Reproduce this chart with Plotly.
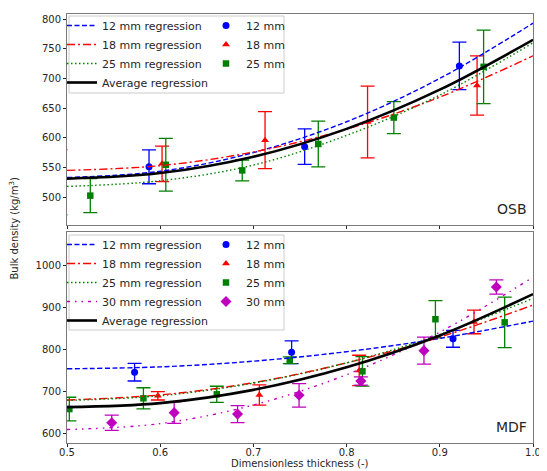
import plotly.graph_objects as go

# ---------------- data ----------------
x_grid = [0.5, 0.6, 0.7, 0.8, 0.9, 1.0]

# OSB regression curves
osb_reg_12 = [533, 543.5, 575, 627, 700, 793]
osb_reg_18 = [545, 553, 576, 614.5, 668.5, 738]
osb_reg_25 = [518, 527.5, 554, 604, 672, 760]
osb_reg_avg = [531, 540.5, 568, 615, 681, 765]

# OSB measurements
osb_12_x = [0.588, 0.755, 0.921]
osb_12_y = [551, 585, 721]
osb_12_e = [28.5, 30, 40]
osb_18_x = [0.493, 0.602, 0.7125, 0.8225, 0.94]
osb_18_y = [525, 556, 596, 626.5, 688]
osb_18_e = [55, 30, 48, 60.5, 50]
osb_25_x = [0.525, 0.606, 0.688, 0.7696, 0.8507, 0.947]
osb_25_y = [502.5, 554.5, 545, 589.5, 634, 719.5]
osb_25_e = [28.5, 44.5, 17.5, 38.5, 27, 62]

# MDF regression curves
mdf_reg_12 = [754, 758.5, 772, 794.5, 826, 867]
mdf_reg_18 = [680, 692, 721, 768, 829, 905]
mdf_reg_25 = [679, 690, 720, 768, 835, 921]
mdf_reg_30 = [610, 624, 668, 740, 841, 971]
mdf_reg_avg = [663, 672.5, 704, 757.5, 833, 931]

# MDF measurements
mdf_12_x = [0.5725, 0.741, 0.9142]
mdf_12_y = [746, 793, 825]
mdf_12_e = [21, 27, 20]
mdf_18_x = [0.5975, 0.7064, 0.8135, 0.9367]
mdf_18_y = [690, 692, 750, 865]
mdf_18_e = [10, 24, 36, 28]
mdf_25_x = [0.5025, 0.582, 0.6607, 0.739, 0.817, 0.8953, 0.9696]
mdf_25_y = [658.5, 684, 693.5, 774, 748, 871.5, 864]
mdf_25_e = [28, 25, 19, 8, 35, 44, 60]
mdf_30_x = [0.548, 0.615, 0.683, 0.749, 0.8153, 0.883, 0.9607]
mdf_30_y = [626, 650, 646.5, 691, 725, 797, 948]
mdf_30_e = [18, 25.5, 20, 28, 10, 32, 17]

x_ticks = [0.5, 0.6, 0.7, 0.8, 0.9, 1.0]
osb_y_ticks = [500, 550, 600, 650, 700, 750, 800]
mdf_y_ticks = [600, 700, 800, 900, 1000]

# ---------------- styling ----------------
# the page body has an 8px default margin, so the figure is drawn 8px
# right/down of the window corner; size it to fill the rest of the window
OFF = 8
SW, SH = 547, 471                 # window size
W, H = SW - OFF, SH - OFF          # figure size
ML, MR, MT, MB = 67 - OFF, 14, 14 - OFF, 28
PW, PH = W - ML - MR, H - MT - MB
FONT = "DejaVu Sans"
BLUE, RED, GREEN, MAG, BLACK = "#0000ff", "#ff0000", "#008000", "#bf00bf", "#000000"
TEXT = "#262626"
SPINE = "#7a7a7a"


def px2x(px):  # window px -> paper x
    return (px - OFF - ML) / PW


def py2y(py):  # window px -> paper y
    return (H - MB - (py - OFF)) / PH


def cx(px):  # window px -> container x
    return (px - OFF) / W


def cy(py):  # window px -> container y
    return 1 - (py - OFF) / H


fig = go.Figure()


def points(x, y, e, color, symbol, size, name, xa, ya, leg):
    fig.add_trace(go.Scatter(
        x=x, y=y, mode="markers", name=name, legend=leg, xaxis=xa, yaxis=ya,
        marker=dict(symbol=symbol, size=size, color=color, line=dict(width=0)),
        error_y=dict(type="data", array=e, color=color, thickness=1.3, width=7),
        cliponaxis=True,
    ))


def curve(y, color, width, dash, name, xa, ya, leg):
    fig.add_trace(go.Scatter(
        x=x_grid, y=y, mode="lines", name=name, legend=leg, xaxis=xa, yaxis=ya,
        line=dict(color=color, width=width, dash=dash, shape="spline"),
    ))


DASH_12 = "5px,2.5px"
DASH_18 = "8px,3px,2px,3px"
DASH_25 = "1.5px,2.5px"
DASH_30 = "3px,5px,1.5px,5px,1.5px,5px"

# OSB panel
points(osb_12_x, osb_12_y, osb_12_e, BLUE, "circle", 7, "12 mm", "x", "y", "legend2")
points(osb_18_x, osb_18_y, osb_18_e, RED, "triangle-up", 7, "18 mm", "x", "y", "legend2")
points(osb_25_x, osb_25_y, osb_25_e, GREEN, "square", 6.5, "25 mm", "x", "y", "legend2")
curve(osb_reg_12, BLUE, 1.4, DASH_12, "12 mm regression", "x", "y", "legend")
curve(osb_reg_18, RED, 1.4, DASH_18, "18 mm regression", "x", "y", "legend")
curve(osb_reg_25, GREEN, 1.4, DASH_25, "25 mm regression", "x", "y", "legend")
curve(osb_reg_avg, BLACK, 2.6, "solid", "Average regression", "x", "y", "legend")

# MDF panel
points(mdf_12_x, mdf_12_y, mdf_12_e, BLUE, "circle", 7, "12 mm", "x2", "y2", "legend4")
points(mdf_18_x, mdf_18_y, mdf_18_e, RED, "triangle-up", 7, "18 mm", "x2", "y2", "legend4")
points(mdf_25_x, mdf_25_y, mdf_25_e, GREEN, "square", 6.5, "25 mm", "x2", "y2", "legend4")
points(mdf_30_x, mdf_30_y, mdf_30_e, MAG, "diamond", 8.5, "30 mm", "x2", "y2", "legend4")
curve(mdf_reg_12, BLUE, 1.4, DASH_12, "12 mm regression", "x2", "y2", "legend3")
curve(mdf_reg_18, RED, 1.4, DASH_18, "18 mm regression", "x2", "y2", "legend3")
curve(mdf_reg_25, GREEN, 1.4, DASH_25, "25 mm regression", "x2", "y2", "legend3")
curve(mdf_reg_30, MAG, 1.4, DASH_30, "30 mm regression", "x2", "y2", "legend3")
curve(mdf_reg_avg, BLACK, 2.6, "solid", "Average regression", "x2", "y2", "legend3")

axis_common = dict(
    showline=True, linecolor=SPINE, linewidth=1, mirror=True,
    ticks="outside", ticklen=3, tickwidth=1, tickcolor=TEXT,
    showgrid=False, zeroline=False, automargin=False,
    tickfont=dict(family=FONT, size=10, color=TEXT),
)

top_dom = [py2y(225), 1.0]
bot_dom = [0.0, py2y(231.7)]

leg_common = dict(
    bgcolor="rgba(0,0,0,0)", borderwidth=0,
    font=dict(family=FONT, size=11, color=TEXT),
    xanchor="left", yanchor="top", traceorder="normal", itemwidth=30,
    xref="container", yref="container",
)

fig.update_layout(
    width=W, height=H,
    margin=dict(l=ML, r=MR, t=MT, b=MB, autoexpand=False),
    paper_bgcolor="white", plot_bgcolor="white",
    font=dict(family=FONT, size=10, color=TEXT),
    xaxis=dict(domain=[0, 1], anchor="y", range=[0.5, 1.0], tickvals=x_ticks,
               showticklabels=False, matches="x2", **axis_common),
    yaxis=dict(domain=top_dom, anchor="x", range=[453, 808.5], tickvals=osb_y_ticks,
               **axis_common),
    xaxis2=dict(domain=[0, 1], anchor="y2", range=[0.5, 1.0], tickvals=x_ticks,
                ticktext=[f"{v:.1f}" for v in x_ticks], ticklabelstandoff=-3,
                **axis_common),
    yaxis2=dict(domain=bot_dom, anchor="x2", range=[578, 1079], tickvals=mdf_y_ticks,
                **axis_common),
    legend=dict(x=cx(62), y=cy(11), **leg_common),
    legend2=dict(x=cx(206), y=cy(11), **leg_common),
    legend3=dict(x=cx(62), y=cy(230), **leg_common),
    legend4=dict(x=cx(206), y=cy(230), **leg_common),
    showlegend=True,
)

# legend frames
for (y0, y1) in [(16, 93), (235, 330)]:
    fig.add_shape(type="rect", xref="paper", yref="paper",
                  x0=px2x(69), x1=px2x(284), y0=py2y(y1), y1=py2y(y0),
                  line=dict(color="#cccccc", width=1), fillcolor="rgba(255,255,255,0.8)",
                  layer="below")

# panel labels and axis titles
fig.add_annotation(text="OSB", xref="x domain", yref="y domain", x=0.992, y=0.03,
                   xanchor="right", yanchor="bottom", showarrow=False,
                   font=dict(family=FONT, size=14, color=TEXT))
fig.add_annotation(text="MDF", xref="x2 domain", yref="y2 domain", x=0.992, y=0.03,
                   xanchor="right", yanchor="bottom", showarrow=False,
                   font=dict(family=FONT, size=14, color=TEXT))
fig.add_annotation(text="Bulk density (kg/m<sup>3</sup>)", xref="paper", yref="paper",
                   x=px2x(13), y=0.5, textangle=-90, showarrow=False,
                   xanchor="center", yanchor="middle",
                   font=dict(family=FONT, size=10, color=TEXT))
fig.add_annotation(text="Dimensionless thickness (-)", xref="paper", yref="paper",
                   x=0.5, y=py2y(463), showarrow=False, xanchor="center", yanchor="middle",
                   font=dict(family=FONT, size=10, color=TEXT))

fig.write_html("out.html")
